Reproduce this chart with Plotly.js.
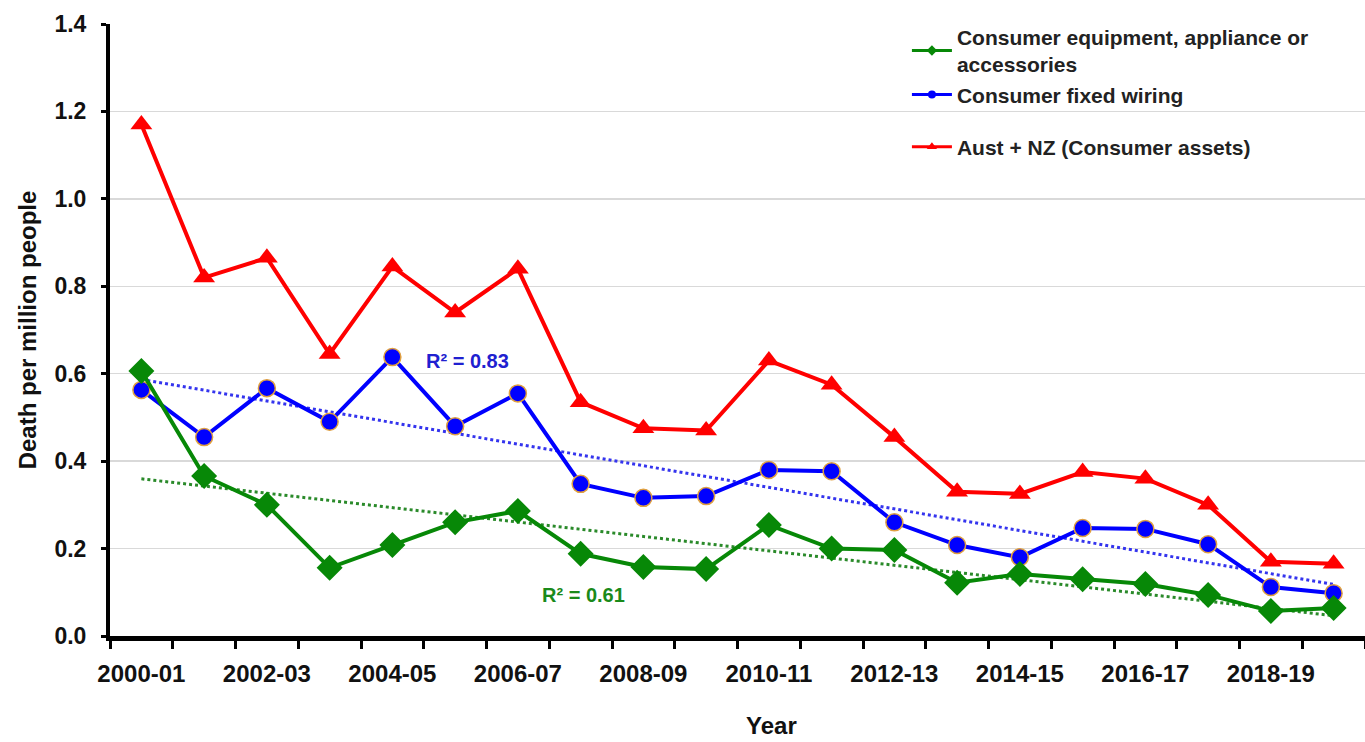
<!DOCTYPE html>
<html>
<head>
<meta charset="utf-8">
<script src="https://cdn.plot.ly/plotly-3.0.1.min.js"></script>
<style>
  html, body { margin: 0; padding: 0; background: white; }
  #chart { width: 1365px; height: 742px; }
</style>
</head>
<body>
<div id="chart"></div>
<script>
// Financial years on the x axis
const years = [
    '2000-01', '2001-02', '2002-03', '2003-04', '2004-05',
    '2005-06', '2006-07', '2007-08', '2008-09', '2009-10',
    '2010-11', '2011-12', '2012-13', '2013-14', '2014-15',
    '2015-16', '2016-17', '2017-18', '2018-19', '2019-20'
];

// Death per million people
const equipment = [
    0.606, 0.366, 0.300, 0.156, 0.208, 0.260, 0.286, 0.188, 0.158, 0.153,
    0.254, 0.200, 0.197, 0.122, 0.142, 0.130, 0.119, 0.094, 0.057, 0.064
];
const fixedWiring = [
    0.563, 0.455, 0.567, 0.490, 0.638, 0.480, 0.555, 0.348, 0.316, 0.320,
    0.380, 0.377, 0.260, 0.208, 0.180, 0.247, 0.245, 0.210, 0.112, 0.098
];
const austNz = [
    1.170, 0.820, 0.865, 0.645, 0.845, 0.740, 0.840, 0.535, 0.475, 0.470,
    0.630, 0.575, 0.455, 0.330, 0.325, 0.375, 0.360, 0.300, 0.170, 0.165
];

const seriesNames = [
    'Consumer equipment, appliance or<br>accessories',
    'Consumer fixed wiring',
    'Aust + NZ (Consumer assets)'
];
const r2Labels = ['R² = 0.61', 'R² = 0.83'];

const yTicks = [0, 0.2, 0.4, 0.6, 0.8, 1.0, 1.2, 1.4];

const FONT = 'Arial, "Liberation Sans", sans-serif';

// x positions are category indices so ticks can sit between categories
const xIdx = years.map((_, i) => i);
const labelIdx = xIdx.filter(i => i % 2 === 0);

/**
 * Least-squares linear trend (what the spreadsheet trendline shows)
 */
function linearTrend(values) {
    const n = values.length;
    const mx = xIdx.reduce((a, b) => a + b, 0) / n;
    const my = values.reduce((a, b) => a + b, 0) / n;
    let sxy = 0, sxx = 0;
    for (let i = 0; i < n; i++) {
        sxy += (xIdx[i] - mx) * (values[i] - my);
        sxx += (xIdx[i] - mx) * (xIdx[i] - mx);
    }
    const slope = sxy / sxx;
    return xIdx.map(x => my + slope * (x - mx));
}

const GREEN = '#078807';
const BLUE = '#0000ff';
const RED = '#ff0000';

const traces = [
    // trendlines first so they sit under the series
    {
        x: xIdx, y: linearTrend(equipment), type: 'scatter', mode: 'lines',
        line: { color: '#2a8a2a', width: 3, dash: 'dot' },
        showlegend: false, hoverinfo: 'skip'
    },
    {
        x: xIdx, y: linearTrend(fixedWiring), type: 'scatter', mode: 'lines',
        line: { color: '#3434ee', width: 3, dash: 'dot' },
        showlegend: false, hoverinfo: 'skip'
    },
    {
        x: xIdx, y: austNz, type: 'scatter', mode: 'lines+markers',
        line: { color: RED, width: 4 },
        marker: { symbol: 'triangle-up', size: 19, color: RED },
        showlegend: false
    },
    {
        x: xIdx, y: fixedWiring, type: 'scatter', mode: 'lines+markers',
        line: { color: BLUE, width: 4 },
        marker: { symbol: 'circle', size: 17, color: BLUE,
                  line: { color: '#e0a040', width: 1.5 } },
        showlegend: false
    },
    {
        x: xIdx, y: equipment, type: 'scatter', mode: 'lines+markers',
        line: { color: GREEN, width: 4 },
        marker: { symbol: 'diamond', size: 20, color: GREEN },
        showlegend: false
    },
    // legend entries with small markers, as in the original
    {
        x: [null], y: [null], type: 'scatter', mode: 'lines+markers',
        name: seriesNames[0], legendgroup: 'a',
        line: { color: GREEN, width: 3 },
        marker: { symbol: 'diamond', size: 8, color: GREEN }
    },
    {
        x: [null], y: [null], type: 'scatter', mode: 'lines+markers',
        name: seriesNames[1], legendgroup: 'a',
        line: { color: BLUE, width: 3 },
        marker: { symbol: 'circle', size: 8, color: BLUE }
    },
    {
        x: [null], y: [null], type: 'scatter', mode: 'lines+markers',
        name: seriesNames[2], legendgroup: 'b',
        line: { color: RED, width: 3 },
        marker: { symbol: 'triangle-up', size: 9, color: RED }
    }
];

const layout = {
    width: 1365,
    height: 742,
    margin: { t: 24, r: 0, b: 106, l: 110 },
    paper_bgcolor: 'white',
    plot_bgcolor: 'white',
    font: { family: FONT, color: '#111', size: 20, weight: 'bold' },
    xaxis: {
        range: [-0.5, 19.5],
        tickmode: 'array',
        tickvals: labelIdx,
        ticktext: labelIdx.map(i => years[i]),
        ticks: '',
        tickfont: { size: 24, weight: 'bold' },
        ticklabelstandoff: 12,
        minor: { tick0: -0.5, dtick: 1, ticks: 'outside', ticklen: 8,
                 tickwidth: 3, tickcolor: 'black', showgrid: false },
        showgrid: false,
        zeroline: false,
        showline: true,
        linecolor: 'black',
        linewidth: 5,
        fixedrange: true
    },
    yaxis: {
        range: [0, 1.4],
        tickmode: 'array',
        tickvals: yTicks,
        tickformat: '.1f',
        ticks: 'outside',
        ticklen: 5,
        tickwidth: 3,
        tickcolor: 'black',
        tickfont: { size: 23, weight: 'bold' },
        ticklabelstandoff: 10,
        gridcolor: '#d9d9d9',
        gridwidth: 1.5,
        zeroline: false,
        showline: true,
        linecolor: 'black',
        linewidth: 4,
        fixedrange: true,
        title: { text: 'Death per million people', font: { size: 24, weight: 'bold' }, standoff: 12 }
    },
    legend: {
        x: 0.635, y: 1.012,
        xanchor: 'left', yanchor: 'top',
        bgcolor: 'rgba(255,255,255,0)',
        font: { size: 21, weight: 'bold', color: '#222' },
        traceorder: 'grouped',
        tracegroupgap: 22,
        itemwidth: 40
    },
    annotations: [
        {
            x: 7.05, y: 0.094, xref: 'x', yref: 'y', showarrow: false,
            text: r2Labels[0], font: { size: 20, color: '#1a8a1a', weight: 'bold' }
        },
        {
            x: 5.2, y: 0.63, xref: 'x', yref: 'y', showarrow: false,
            text: r2Labels[1], font: { size: 20, color: '#2020d0', weight: 'bold' }
        },
        {
            // axis title sits a little right of centre in the original
            x: 0.527, y: -0.146, xref: 'paper', yref: 'paper', showarrow: false,
            xanchor: 'center', yanchor: 'middle',
            text: 'Year', font: { size: 24, weight: 'bold' }
        }
    ],
    showlegend: true
};

Plotly.newPlot('chart', traces, layout, { displayModeBar: false, staticPlot: true });
</script>
</body>
</html>
